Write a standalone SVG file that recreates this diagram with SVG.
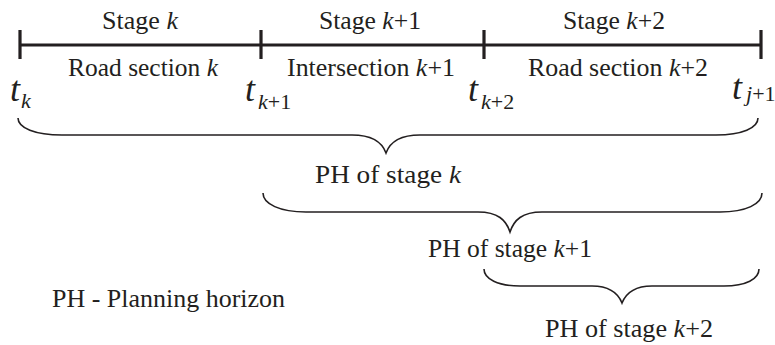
<svg xmlns="http://www.w3.org/2000/svg" width="775" height="345" viewBox="0 0 775 345">
<style>
text{fill:#231f20;font-family:"Liberation Serif","Times New Roman",serif}
.lbl{font-size:25px;text-anchor:middle}
.it{font-style:italic}
.t{font-size:36px;font-style:italic}
.sub{font-size:22px}
.up{font-style:normal}
.tl{stroke:#231f20;stroke-width:3.2;fill:none}
.br{stroke:#231f20;stroke-width:1.6;fill:none}
</style>
<rect width="775" height="345" fill="#fff"/>
<g id="timeline">
<line class="tl" x1="20" y1="45" x2="761" y2="45"/>
<line class="tl" x1="20" y1="30" x2="20" y2="59"/>
<line class="tl" x1="261" y1="30" x2="261" y2="59"/>
<line class="tl" x1="484" y1="30" x2="484" y2="59"/>
<line class="tl" x1="761" y1="30" x2="761" y2="59"/>
</g>
<g id="stage-k">
<text class="lbl" x="140" y="29" textLength="76" lengthAdjust="spacingAndGlyphs">Stage <tspan class="it">k</tspan></text>
<text class="lbl" x="143" y="76" textLength="150" lengthAdjust="spacingAndGlyphs">Road section <tspan class="it">k</tspan></text>
</g>
<g id="stage-k1">
<text class="lbl" x="370" y="29" textLength="102" lengthAdjust="spacingAndGlyphs">Stage <tspan class="it">k</tspan>+1</text>
<text class="lbl" x="371" y="76" textLength="168" lengthAdjust="spacingAndGlyphs">Intersection <tspan class="it">k</tspan>+1</text>
</g>
<g id="stage-k2">
<text class="lbl" x="614" y="29" textLength="102" lengthAdjust="spacingAndGlyphs">Stage <tspan class="it">k</tspan>+2</text>
<text class="lbl" x="618" y="76" textLength="180" lengthAdjust="spacingAndGlyphs">Road section <tspan class="it">k</tspan>+2</text>
</g>
<g id="times">
<text class="t" x="10" y="101">t<tspan class="sub" dx="1" dy="7">k</tspan></text>
<text class="t" x="245" y="101">t<tspan class="sub" dx="3" dy="8">k</tspan><tspan class="sub up">+1</tspan></text>
<text class="t" x="468" y="101">t<tspan class="sub" dx="3" dy="8">k</tspan><tspan class="sub up">+2</tspan></text>
<text class="t" x="732" y="99">t<tspan class="sub" dx="4" dy="2">j</tspan><tspan class="sub up">+1</tspan></text>
</g>
<g id="braces">
<path class="br" d="M18,118 C18,128 35,135 62,135 L352,135 C372,135 382,142 386,153 C390,142 400,135 420,135 L716,135 C742,135 758,128 758,118"/>
<path class="br" d="M263,193 C263,204 280,212 306,212 L478,212 C498,212 506,220 510,232 C514,220 522,212 542,212 L720,212 C746,212 762,204 762,193"/>
<path class="br" d="M484,269 C484,279 498,286 520,286 L592,286 C610,286 618,293 622,303 C626,293 634,286 652,286 L724,286 C746,286 759,279 759,269"/>
</g>
<g id="ph-labels">
<text class="lbl" x="388" y="183" textLength="146" lengthAdjust="spacingAndGlyphs">PH of stage <tspan class="it">k</tspan></text>
<text class="lbl" x="510" y="257" textLength="164" lengthAdjust="spacingAndGlyphs">PH of stage <tspan class="it">k</tspan>+1</text>
<text class="lbl" x="629" y="337" textLength="168" lengthAdjust="spacingAndGlyphs">PH of stage <tspan class="it">k</tspan>+2</text>
<text class="lbl" x="52" y="307" style="text-anchor:start" textLength="233" lengthAdjust="spacingAndGlyphs">PH - Planning horizon</text>
</g>
</svg>
